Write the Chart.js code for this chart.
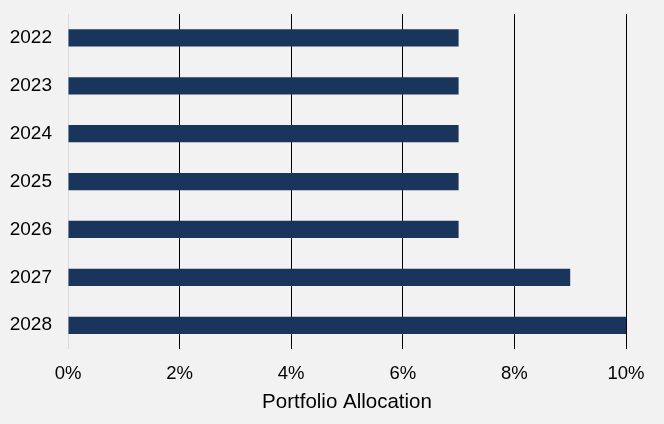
<!DOCTYPE html>
<html><head><meta charset="utf-8">
<script src="https://cdn.jsdelivr.net/npm/chart.js@4/dist/chart.umd.min.js"></script>
<style>html,body{margin:0;padding:0;background:#f2f2f2;}#c{display:block;}</style>
</head><body>
<div style="width:664px;height:424px;"><canvas id="c"></canvas></div>
<script>
const categories = ['2022','2023','2024','2025','2026','2027','2028'];
const allocation = [7, 7, 7, 7, 7, 9, 10];
const xTicks = [0, 2, 4, 6, 8, 10];
const bg = {id:'bg',beforeDraw(c){const x=c.ctx;x.save();x.fillStyle='#f2f2f2';x.fillRect(0,0,c.width,c.height);x.restore();}};
const noPad = s => { s.paddingLeft = 0; s.paddingRight = 0; s.paddingTop = 0; s.paddingBottom = 0; };
new Chart(document.getElementById('c'), {
  type: 'bar',
  data: { labels: categories, datasets: [{ data: allocation, backgroundColor: '#1a355c', borderWidth: 0, barPercentage: 0.72, categoryPercentage: 0.5 }] },
  options: {
    indexAxis: 'y', responsive: true, maintainAspectRatio: false, animation: false,
    layout: { padding: { left: 8, right: 38, top: 14, bottom: 9 } },
    plugins: { legend: { display: false }, tooltip: { enabled: false } },
    scales: {
      x: { min: 0, max: 10, afterBuildTicks(a){ a.ticks = xTicks.map(v=>({value:v})); }, afterFit: noPad,
        ticks: { callback: v => v + '%', color: '#000', font: { family: 'Liberation Sans, Arial', size: 18.5 }, padding: 14 },
        grid: { color: ctx => ctx.tick && ctx.tick.value === 0 ? '#d9d9d9' : '#000', lineWidth: 1, drawTicks: false },
        border: { display: false },
        title: { display: true, text: 'Portfolio Allocation', color: '#000', font: { family: 'Liberation Sans, Arial', size: 20.5 }, padding: { top: -9, bottom: 0 } } },
      y: { afterFit: s => { noPad(s); s.width = 60; }, grid: { display: false, drawTicks: false }, border: { display: false },
        ticks: { color: '#000', font: { family: 'Liberation Sans, Arial', size: 19 }, padding: 16 } }
    }
  },
  plugins: [bg]
});
</script>
</body></html>
